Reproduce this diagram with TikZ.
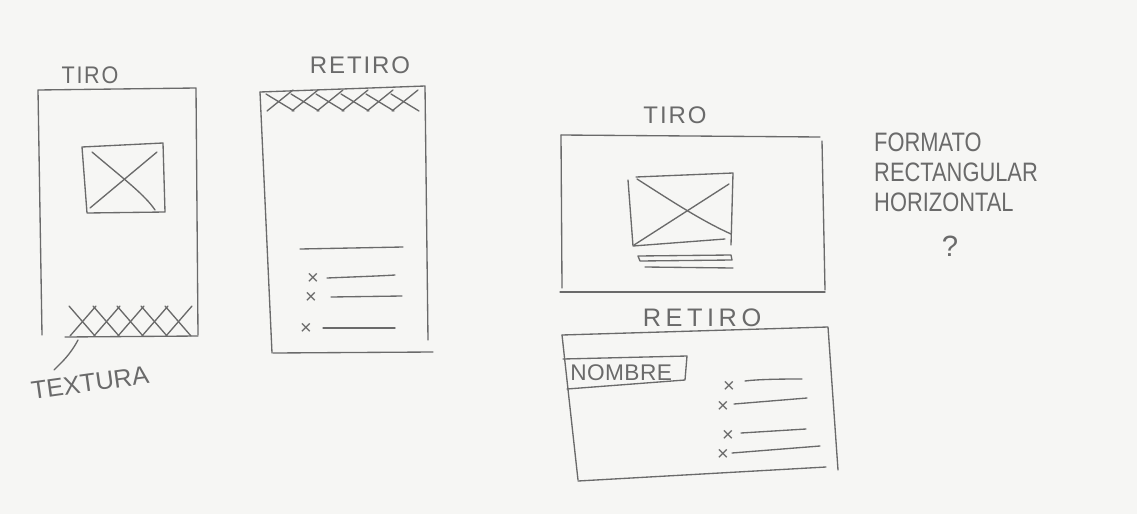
\documentclass[tikz,border=0pt]{standalone}
\usepackage{fontspec}
\setmainfont{Liberation Sans}
\definecolor{paper}{HTML}{F6F6F4}
\definecolor{pencil}{HTML}{6A6A6A}
\tikzset{
  pen/.style={draw=pencil, line width=1pt, line cap=round, line join=round},
  hand/.style={text=pencil, inner sep=0pt, font=\fontsize{18}{18}\selectfont\addfontfeature{LetterSpace=8}},
  xm/.style={text=pencil, inner sep=0pt, font=\fontsize{15}{15}\selectfont},
  big/.style={text=pencil, inner sep=0pt, font=\fontsize{20}{22.5}\selectfont, align=left},
}
\begin{document}
\begin{tikzpicture}[x=0.75pt,y=-0.75pt]
\fill[paper] (0,0) rectangle (1137,514);
\useasboundingbox (0,0) rectangle (1137,514);

% ---------- left panel TIRO ----------
\node[hand, xscale=0.9] (tiro1) at (90,75) {TIRO};
\draw[pen] (42,335) -- (38,90) -- (196,88) -- (198,335);
\draw[pen] (65,337) -- (198,336);
% image box
\draw[pen] (82,147) -- (163,143) -- (165,212) -- (87,213) -- cycle;
\draw[pen] (92,152) .. controls (125,180) and (145,195) .. (155,210);
\draw[pen] (90,208) -- (157,152);
% texture
\foreach \i in {0,...,4} {
  \draw[pen] (69+24*\i,306) -- (95+24*\i,336);
  \draw[pen] (96+24*\i,306) -- (70+24*\i,336);
}
\node[hand, rotate=8, font=\fontsize{19}{19}\selectfont] (textura) at (90,383) {TEXTURA};
\coordinate (texpt) at (78,340);
\coordinate (texend) at (54,370);
\draw[pen] (texpt) .. controls (70,355) and (62,362) .. (texend);

% ---------- middle panel RETIRO ----------
\node[hand] (retiro1) at (360,65) {RETIRO};
\draw[pen] (260,92) -- (272,353) ;
\draw[pen] (260,92) -- (425,86) -- (428,340);
\draw[pen] (273,353) -- (433,352);
\foreach \i in {0,...,5} {
  \draw[pen] (266+25*\i,94) -- (294+25*\i,111);
  \draw[pen] (267+25*\i,111) -- (293+25*\i,90);
}
\draw[pen] (300,249) -- (403,247);
\node[xm] (x1) at (313,279) {×};
\draw[pen] (327,278) .. controls (350,277) and (380,276) .. (395,275);
\node[xm] (x2) at (311,298) {×};
\draw[pen] (331,297) -- (402,296);
\node[xm] (x3) at (306,329) {×};
\draw[pen] (323,328) -- (395,328);

% ---------- right top TIRO ----------
\node[hand] (tiro2) at (675,115) {TIRO};
\draw[pen] (561,135) -- (820,137);
\draw[pen] (822,141) -- (825,290);
\draw[pen] (561,135) -- (562,288);
\draw[pen] (560,292) -- (825,292);
% image
\draw[pen] (628,180) -- (633,246) -- (725,239);
\draw[pen] (636,177) -- (733,173) -- (731,245);
\draw[pen] (637,179) .. controls (670,200) and (700,220) .. (731,234);
\draw[pen] (634,245) -- (729,184);
\draw[pen] (638,256) -- (731,255) -- (732,260) -- (640,261) -- cycle;
\draw[pen] (645,267) -- (733,268);

% ---------- right bottom RETIRO ----------
\node[hand, font=\fontsize{19}{19}\selectfont\addfontfeature{LetterSpace=18}] (retiro2) at (702,318) {RETIRO};
\draw[pen] (562,335) -- (578,480);
\draw[pen] (562,335) -- (828,327) -- (838,470);
\draw[pen] (578,481) -- (826,467);
\node[hand, anchor=west, font=\fontsize{17}{17}\selectfont\addfontfeature{LetterSpace=2}] (nombre) at (570,373) {NOMBRE};
\draw[pen] (563,359) -- (687,356) -- (685,380) -- (567,389);
\node[xm] (y1) at (729,387) {×};
\draw[pen] (745,381) .. controls (760,379) and (790,379) .. (802,379);
\node[xm] (y2) at (723,407) {×};
\draw[pen] (734,404) -- (807,398);
\node[xm] (y3) at (728,436) {×};
\draw[pen] (741,433) -- (806,429);
\node[xm] (y4) at (723,455) {×};
\draw[pen] (732,453) -- (820,446);

% ---------- note ----------
\node[big, anchor=north west, xscale=0.82] (note) at (874,133) {FORMATO\\RECTANGULAR\\HORIZONTAL};
\node[hand, font=\fontsize{22}{22}\selectfont] (q) at (950,246) {?};
\end{tikzpicture}
\end{document}
